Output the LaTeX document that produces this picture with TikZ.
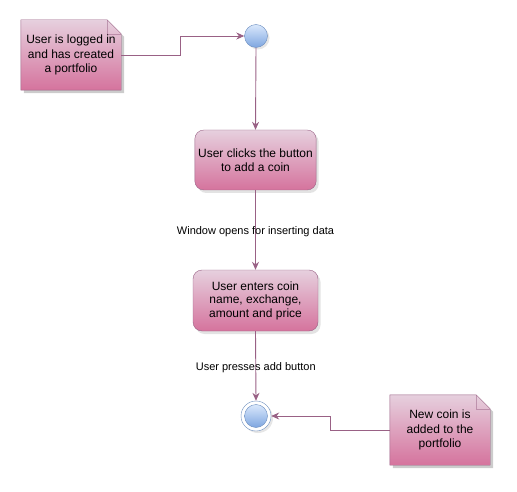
\documentclass[tikz,border=0pt]{standalone}
\usepackage{fontspec}
\setmainfont{Liberation Sans}
\usetikzlibrary{arrows.meta,shadows,calc}
\definecolor{pinkf}{HTML}{E6D0DE}
\definecolor{pinkg}{HTML}{D5739D}
\definecolor{pinks}{HTML}{996185}
\definecolor{bluef}{HTML}{DAE8FC}
\definecolor{blueg}{HTML}{7EA6E0}
\definecolor{blues}{HTML}{6C8EBF}
\pgfdeclarelayer{bg}
\pgfsetlayers{bg,main}
\begin{document}
\begin{tikzpicture}[x=1pt,y=-1pt,
  actbox/.style={rectangle, rounded corners=9pt, draw=pinks, top color=pinkf, bottom color=pinkg,
    minimum width=121pt, minimum height=60pt, align=center, font=\fontsize{12}{14.5}\selectfont,
    drop shadow={opacity=0.22, shadow xshift=2.5pt, shadow yshift=-3pt}},
  notebox/.style={rectangle, minimum width=100pt, minimum height=70pt, inner sep=0pt, align=center,
    font=\fontsize{12}{14.2}\selectfont},
  notefill/.style={draw=pinks, top color=pinkf, bottom color=pinkg},
  noteshadow/.style={fill=black, opacity=0.2},
  startc/.style={circle, draw=blues, top color=bluef, bottom color=blueg, minimum size=23pt, inner sep=0pt,
    drop shadow={opacity=0.2, shadow xshift=2pt, shadow yshift=-2pt}},
  endo/.style={circle, draw=blues, fill=white, minimum size=30pt, inner sep=0pt,
    drop shadow={opacity=0.2, shadow xshift=2pt, shadow yshift=-2pt}},
  endi/.style={circle, draw=blues, top color=bluef, bottom color=blueg, minimum size=23pt, inner sep=0pt},
  conn/.style={draw=pinks, line width=0.9pt, -{Stealth[length=8pt,width=7pt]}},
  elabel/.style={font=\fontsize{11}{13}\selectfont, inner sep=1pt, yshift=-2pt}
]
\useasboundingbox (0,0) rectangle (517,492);

% nodes
\node[notebox] (n1) at (71,55) {User is logged in\\and has created\\a portfolio};
\node[startc] (start) at (256,36) {};
\node[actbox] (a1) at (255.5,160) {User clicks the button\\to add a coin};
\node[actbox, minimum width=125pt, minimum height=61pt, font=\fontsize{12}{13.6}\selectfont] (a2) at (255.5,300.5) {User enters coin\\name, exchange,\\amount and price};
\node[endo] (endo) at (256,416) {};
\node[endi] (endi) at (endo.center) {};
\node[notebox] (n2) at (440,430) {New coin is\\added to the\\portfolio};

% note shapes
\begin{pgfonlayer}{bg}
\fill[noteshadow] ($(n1.north west)+(3,3)$) -- ($(n1.north east)+(-11,3)$) -- ($(n1.north east)+(3,17)$) -- ($(n1.south east)+(3,3)$) -- ($(n1.south west)+(3,3)$) -- cycle;
\path[notefill] (n1.north west) -- ($(n1.north east)+(-14,0)$) -- ($(n1.north east)+(0,14)$) -- (n1.south east) -- (n1.south west) -- cycle;
\draw[pinks, opacity=0.5] ($(n1.north east)+(-14,0)$) -- ($(n1.north east)+(-14,14)$) -- ($(n1.north east)+(0,14)$);
\fill[noteshadow] ($(n2.north west)+(3,3)$) -- ($(n2.north east)+(-11,3)$) -- ($(n2.north east)+(3,17)$) -- ($(n2.south east)+(3,3)$) -- ($(n2.south west)+(3,3)$) -- cycle;
\path[notefill] (n2.north west) -- ($(n2.north east)+(-14,0)$) -- ($(n2.north east)+(0,14)$) -- (n2.south east) -- (n2.south west) -- cycle;
\draw[pinks, opacity=0.5] ($(n2.north east)+(-14,0)$) -- ($(n2.north east)+(-14,14)$) -- ($(n2.north east)+(0,14)$);
\end{pgfonlayer}

% connectors
\draw[conn] (n1.east) -- ++(59,0) |- (start.west);
\draw[conn] (start.south) -- (a1.north);
\draw[conn] (a1.south) -- node[elabel, midway] {Window opens for inserting data} (a2.north);
\draw[conn] (a2.south) -- node[elabel, midway] {User presses add button} (endo.north);
\draw[conn] (n2.west) -- ++(-59,0) |- (endo.east);
\end{tikzpicture}
\end{document}
